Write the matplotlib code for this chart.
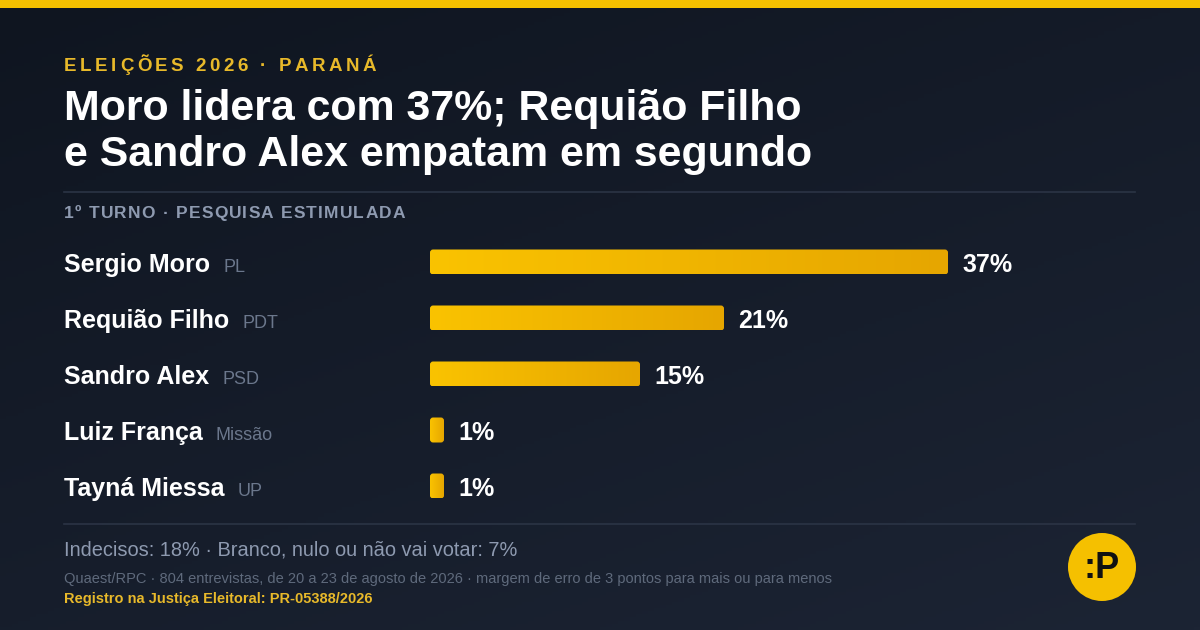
import matplotlib
matplotlib.use("Agg")
import matplotlib.pyplot as plt
import numpy as np
from matplotlib.colors import LinearSegmentedColormap, to_rgb
from matplotlib.patches import FancyBboxPatch, Circle, Rectangle
from matplotlib.transforms import blended_transform_factory

plt.rcParams["font.family"] = ["Liberation Sans", "DejaVu Sans"]

# ── data ────────────────────────────────────────────────────────────────────
candidates = ["Sergio Moro", "Requião Filho", "Sandro Alex", "Luiz França", "Tayná Miessa"]
parties = ["PL", "PDT", "PSD", "Missão", "UP"]
values = [37, 21, 15, 1, 1]

kicker = "ELEIÇÕES 2026 · PARANÁ"
title_lines = ["Moro lidera com 37%; Requião Filho", "e Sandro Alex empatam em segundo"]
subhead = "1º TURNO · PESQUISA ESTIMULADA"
others = "Indecisos: 18% · Branco, nulo ou não vai votar: 7%"
source = ("Quaest/RPC · 804 entrevistas, de 20 a 23 de agosto de 2026 · "
          "margem de erro de 3 pontos para mais ou para menos")
registry = "Registro na Justiça Eleitoral: PR-05388/2026"

# ── style ───────────────────────────────────────────────────────────────────
W, H = 1200, 630
YELLOW = "#f5c000"
KICKER = "#e8b92a"
WHITE = "#ffffff"
GRAY = "#8e9ab0"
PARTY = "#6b778c"
SOURCE = "#5f6a7c"
RULE = "#2b3445"

fig = plt.figure(figsize=(12, 6.3), dpi=100)
renderer = fig.canvas.get_renderer()

# background in pixel coordinates (y down)
bg = fig.add_axes([0, 0, 1, 1], zorder=-10)
yy, xx = np.mgrid[0:1:200j, 0:1:200j]
t = xx * 0.4 + yy * 0.6
c0, c1 = np.array(to_rgb("#0f1520")), np.array(to_rgb("#1c2434"))
bg.imshow(c0 + (c1 - c0) * t[..., None], extent=[0, W, H, 0], aspect="auto")
bg.set_xlim(0, W)
bg.set_ylim(H, 0)
bg.axis("off")
bg.add_patch(Rectangle((0, 0), W, 8, color=YELLOW, lw=0))
bg.plot([64, 1135], [192, 192], color=RULE, lw=1.2)
bg.plot([64, 1135], [524, 524], color=RULE, lw=1.2)


def text_width(s, **kw):
    tt = bg.text(0, 300, s, **kw)
    w = tt.get_window_extent(renderer).width
    tt.remove()
    return w


def fit_size(s, target, **kw):
    return 10 * target / text_width(s, fontsize=10, **kw)


def spaced_text(x, y, s, x_end, **kw):
    """Letter-spaced text laid out char by char to end at x_end."""
    base = text_width("||", **kw)
    widths = [text_width("|" + ch + "|", **kw) - base for ch in s]
    gap = (x_end - x - sum(widths)) / (len(s) - 1)
    for ch, w in zip(s, widths):
        bg.text(x, y, ch, va="baseline", ha="left", **kw)
        x += w + gap


# ── header ──────────────────────────────────────────────────────────────────
spaced_text(64, 71, kicker, 376, fontsize=13.5, fontweight="bold", color=KICKER)

tsize = fit_size(title_lines[1], 750, fontweight="bold")
bg.text(64, 120, title_lines[0], fontsize=tsize, fontweight="bold", color=WHITE, va="baseline")
bg.text(64, 166, title_lines[1], fontsize=tsize, fontweight="bold", color=WHITE, va="baseline")

spaced_text(64, 218, subhead, 405, fontsize=12.5, fontweight="bold", color=GRAY)

# ── bars ────────────────────────────────────────────────────────────────────
ax = fig.add_axes([430 / W, 1 - 514 / H, 700 / W, 280 / H])
ax.set_facecolor("none")
ax.axis("off")
rows = np.arange(len(values))

bar_cmap = LinearSegmentedColormap.from_list("bar", ["#fac300", "#e6a600"])
bars = ax.barh(rows, values, height=25 / 56, color=YELLOW)
for bar in bars:
    x0, y0, w, h = bar.get_x(), bar.get_y(), bar.get_width(), bar.get_height()
    bar.set_visible(False)
    shape = FancyBboxPatch((x0, y0), w, h, boxstyle="round,pad=0,rounding_size=0.22",
                           mutation_aspect=0.25, fc="none", ec="none")
    ax.add_patch(shape)
    im = ax.imshow(np.linspace(0, 1, 256)[None, :], cmap=bar_cmap, aspect="auto",
                   extent=[x0, x0 + w, y0 + h, y0], interpolation="bilinear")
    im.set_clip_path(shape)

ax.set_xlim(0, 50)
ax.set_ylim(len(values) - 0.5, -0.5)

for i, v in enumerate(values):
    ax.text(v + 14 / 14, i + 0.17, f"{v}%", va="baseline", ha="left",
            fontsize=18, fontweight="bold", color=WHITE)

label_tr = blended_transform_factory(bg.transData, ax.transData)
for i, (name, party) in enumerate(zip(candidates, parties)):
    nt = bg.text(64, i + 0.17, name, transform=label_tr, va="baseline", ha="left",
                 fontsize=18, fontweight="bold", color=WHITE)
    right = nt.get_window_extent(renderer).x1
    bg.text(right + 13, i + 0.17, party, transform=label_tr, va="baseline", ha="left",
            fontsize=13, color=PARTY)

# ── footer ──────────────────────────────────────────────────────────────────
bg.text(64, 556, others, fontsize=fit_size(others, 456), color=GRAY, va="baseline")
bg.text(64, 583, source, fontsize=fit_size(source, 765), color=SOURCE, va="baseline")
bg.text(64, 603, registry, fontsize=fit_size(registry, 308, fontweight="bold"),
        fontweight="bold", color=KICKER, va="baseline")

bg.add_patch(Circle((1102, 567), 34, color=YELLOW, lw=0))
bg.text(1102, 568, ":P", fontsize=26, fontweight="bold", color="#111111",
        ha="center", va="center")

fig.savefig("out.png", dpi=100, facecolor=fig.get_facecolor())
